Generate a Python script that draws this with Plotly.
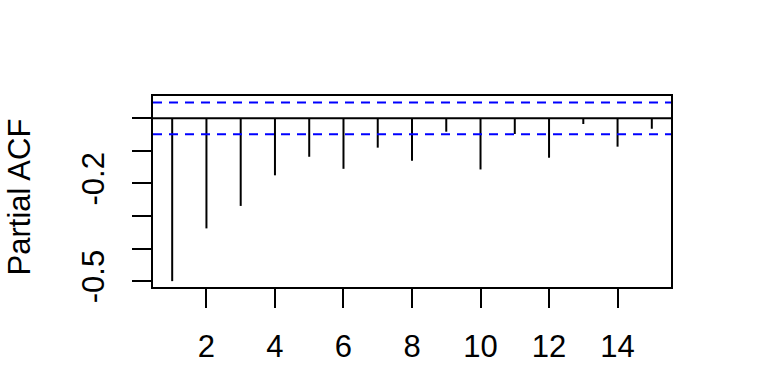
import plotly.graph_objects as go

lags = list(range(1, 16))
pacf = [-0.50, -0.338, -0.269, -0.175, -0.118, -0.155, -0.090, -0.130,
        -0.041, -0.157, -0.048, -0.121, -0.0175, -0.087, -0.032]
conf = 0.049
ytick_vals = [0.0, -0.1, -0.2, -0.3, -0.4, -0.5]
ytick_text = ["", "", "-0.2", "", "", "-0.5"]
xtick_vals = [2, 4, 6, 8, 10, 12, 14]

xs, ys = [], []
for l, v in zip(lags, pacf):
    xs += [l, l, None]
    ys += [0, v, None]

fig = go.Figure()
fig.add_trace(go.Scatter(x=xs, y=ys, mode="lines",
                         line=dict(color="black", width=2), hoverinfo="skip"))

xr = [0.44, 15.56]
fig.add_shape(type="line", xref="paper", x0=0, x1=1, y0=0, y1=0,
              line=dict(color="black", width=2))
for c in (conf, -conf):
    fig.add_shape(type="line", xref="paper", x0=0, x1=1, y0=c, y1=c,
                  line=dict(color="#0000FF", width=2, dash="9px,7px"))

FS = 31
fig.update_layout(
    width=768, height=384,
    margin=dict(l=153, r=97, t=96, b=97, pad=0),
    paper_bgcolor="white", plot_bgcolor="white",
    showlegend=False,
    font=dict(family="Liberation Sans, Arial, sans-serif", size=FS, color="black"),
    xaxis=dict(range=xr, tickvals=xtick_vals, ticks="outside", ticklen=19,
               tickwidth=2, tickcolor="black", showgrid=False, zeroline=False,
               showline=True, linecolor="black", linewidth=2, mirror=True,
               ticklabelstandoff=12, tickfont=dict(size=FS)),
    yaxis=dict(range=[-0.518, 0.0686], tickvals=ytick_vals, ticktext=ytick_text,
               ticks="outside", ticklen=19, tickwidth=2, tickcolor="black",
               showgrid=False, zeroline=False, showline=True, linecolor="black",
               linewidth=2, mirror=True, tickangle=-90, ticklabelstandoff=16,
               tickfont=dict(size=FS)),
    annotations=[dict(text="Partial ACF", xref="paper", yref="paper",
                      x=-0.257, y=0.4735, textangle=-90, showarrow=False,
                      xanchor="center", yanchor="middle",
                      font=dict(size=FS, color="black"))],
)

fig.write_html("out.html")
